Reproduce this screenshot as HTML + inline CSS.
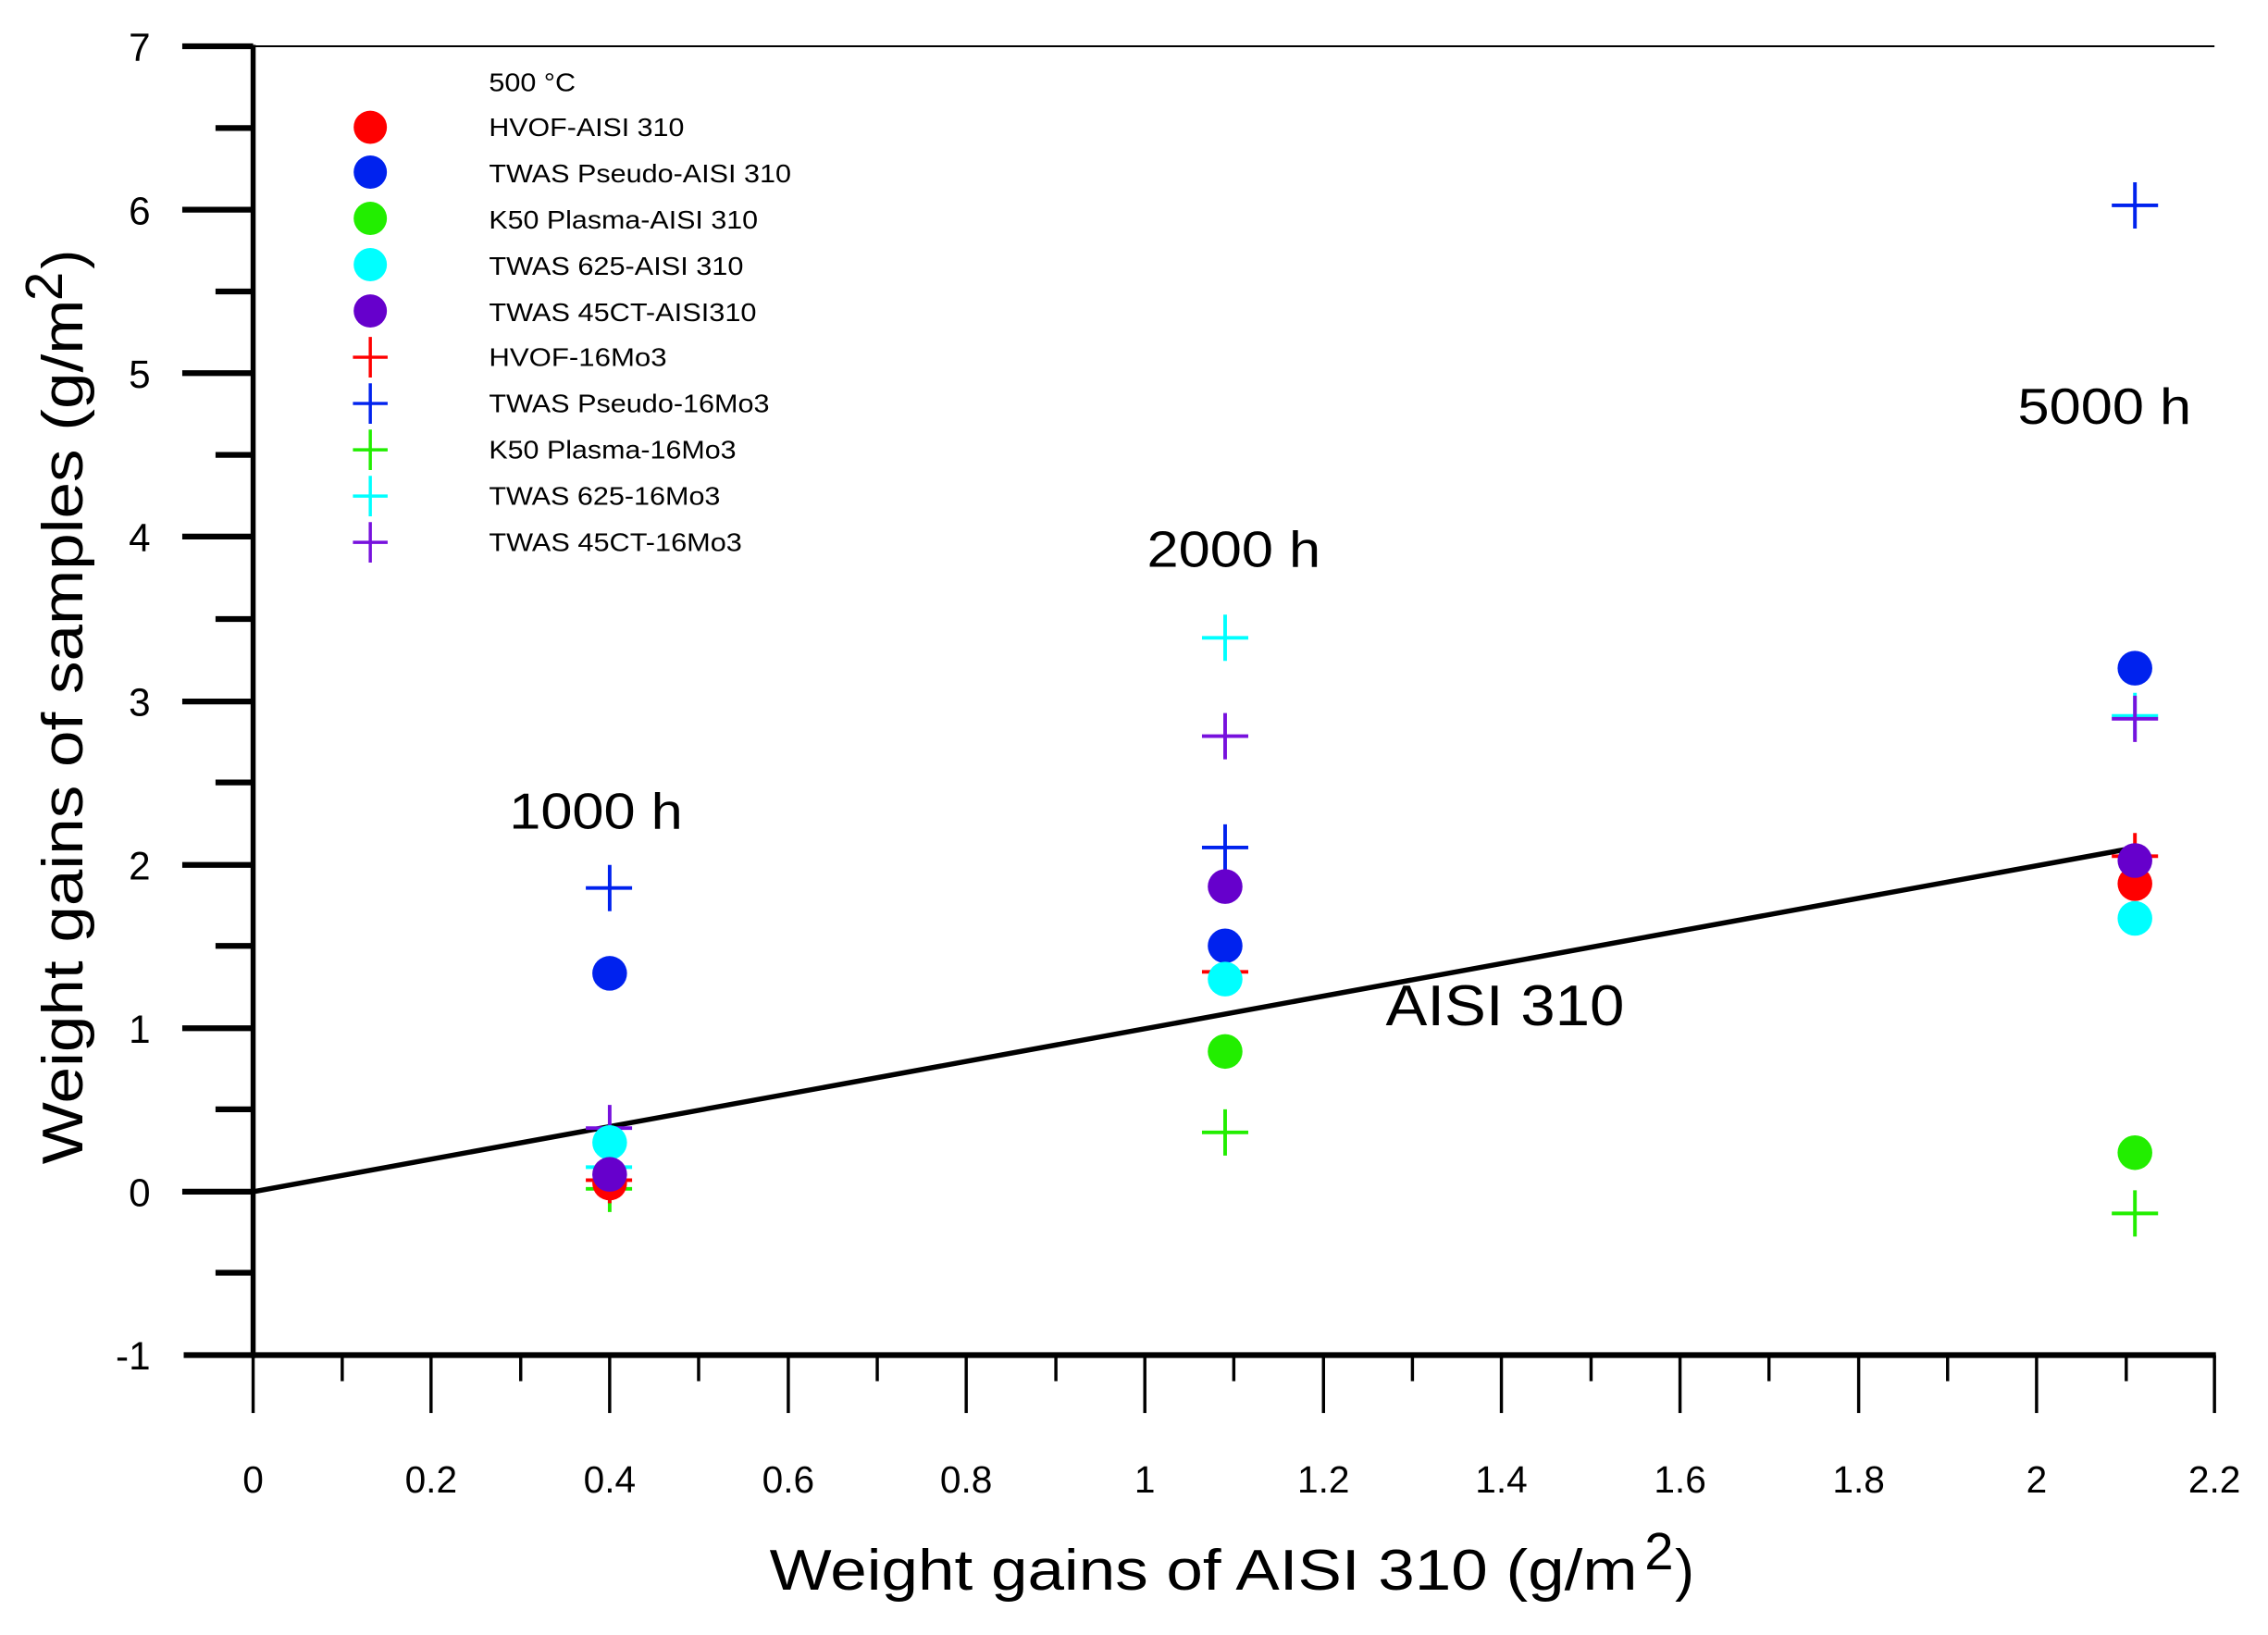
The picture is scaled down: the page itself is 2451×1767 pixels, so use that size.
<!DOCTYPE html>
<html><head><meta charset="utf-8"><style>
html,body{margin:0;padding:0;background:#fff;}
svg{display:block;}
text{font-family:"Liberation Sans",Arial,sans-serif;}
</style></head><body>
<svg width="2451" height="1767" viewBox="0 0 1568 1130.5" preserveAspectRatio="none" xmlns="http://www.w3.org/2000/svg">
<rect width="1568" height="1131" fill="#fff"/>
<!-- frame -->
<line x1="175" y1="32" x2="1531" y2="32" stroke="#000" stroke-width="1.3"/>
<line x1="175" y1="31" x2="175" y2="939" stroke="#000" stroke-width="3.5"/>
<line x1="127" y1="937" x2="1532" y2="937" stroke="#000" stroke-width="4"/>
<!-- y ticks -->
<g stroke="#000" stroke-width="4">
<line x1="126" y1="32" x2="175" y2="32"/><line x1="149" y1="88.5" x2="175" y2="88.5"/>
<line x1="126" y1="145" x2="175" y2="145"/><line x1="149" y1="201.5" x2="175" y2="201.5"/>
<line x1="126" y1="258" x2="175" y2="258"/><line x1="149" y1="314.5" x2="175" y2="314.5"/>
<line x1="126" y1="371" x2="175" y2="371"/><line x1="149" y1="428" x2="175" y2="428"/>
<line x1="126" y1="485" x2="175" y2="485"/><line x1="149" y1="541" x2="175" y2="541"/>
<line x1="126" y1="598" x2="175" y2="598"/><line x1="149" y1="654" x2="175" y2="654"/>
<line x1="126" y1="711" x2="175" y2="711"/><line x1="149" y1="767" x2="175" y2="767"/>
<line x1="126" y1="824" x2="175" y2="824"/><line x1="149" y1="880" x2="175" y2="880"/>
</g>
<g font-size="27" text-anchor="end" fill="#000">
<text x="104" y="42">7</text><text x="104" y="155">6</text><text x="104" y="268">5</text>
<text x="104" y="381">4</text><text x="104" y="495">3</text><text x="104" y="608">2</text>
<text x="104" y="721">1</text><text x="104" y="834">0</text><text x="104" y="947">-1</text>
</g>
<!-- x ticks -->
<g stroke="#000" stroke-width="2.2">
<line x1="175" y1="937" x2="175" y2="977"/><line x1="236.6" y1="937" x2="236.6" y2="955"/>
<line x1="298" y1="937" x2="298" y2="977"/><line x1="360" y1="937" x2="360" y2="955"/>
<line x1="421.5" y1="937" x2="421.5" y2="977"/><line x1="483" y1="937" x2="483" y2="955"/>
<line x1="545" y1="937" x2="545" y2="977"/><line x1="606.5" y1="937" x2="606.5" y2="955"/>
<line x1="668" y1="937" x2="668" y2="977"/><line x1="730" y1="937" x2="730" y2="955"/>
<line x1="791.5" y1="937" x2="791.5" y2="977"/><line x1="853" y1="937" x2="853" y2="955"/>
<line x1="915" y1="937" x2="915" y2="977"/><line x1="976.5" y1="937" x2="976.5" y2="955"/>
<line x1="1038" y1="937" x2="1038" y2="977"/><line x1="1100" y1="937" x2="1100" y2="955"/>
<line x1="1161.5" y1="937" x2="1161.5" y2="977"/><line x1="1223" y1="937" x2="1223" y2="955"/>
<line x1="1285" y1="937" x2="1285" y2="977"/><line x1="1346.5" y1="937" x2="1346.5" y2="955"/>
<line x1="1408" y1="937" x2="1408" y2="977"/><line x1="1470" y1="937" x2="1470" y2="955"/>
<line x1="1531" y1="937" x2="1531" y2="977"/>
</g>
<g font-size="26" text-anchor="middle" fill="#000">
<text x="175" y="1032">0</text><text x="298" y="1032">0.2</text><text x="421.5" y="1032">0.4</text>
<text x="545" y="1032">0.6</text><text x="668" y="1032">0.8</text><text x="791.5" y="1032">1</text>
<text x="915" y="1032">1.2</text><text x="1038" y="1032">1.4</text><text x="1161.5" y="1032">1.6</text>
<text x="1285" y="1032">1.8</text><text x="1408" y="1032">2</text><text x="1531" y="1032">2.2</text>
</g>
<text x="532" y="1099" font-size="40" textLength="600" lengthAdjust="spacingAndGlyphs">Weight gains of AISI 310 (g/m</text>
<text x="1137" y="1085" font-size="36">2</text>
<text x="1158" y="1099" font-size="40">)</text>
<text transform="translate(57,805) rotate(-90)" font-size="40" textLength="598" lengthAdjust="spacingAndGlyphs">Weight gains of samples (g/m</text>
<text transform="translate(43,208) rotate(-90)" font-size="36">2</text>
<text transform="translate(57,186) rotate(-90)" font-size="40">)</text>
<!-- fit line -->
<line x1="175" y1="824" x2="1477" y2="586" stroke="#000" stroke-width="3.5"/>
<!-- labels -->
<g font-size="35" fill="#000">
<text x="352" y="573" textLength="120" lengthAdjust="spacingAndGlyphs">1000 h</text>
<text x="793" y="392" textLength="120" lengthAdjust="spacingAndGlyphs">2000 h</text>
<text x="1395" y="293" textLength="120" lengthAdjust="spacingAndGlyphs">5000 h</text>
<text x="958" y="709" font-size="40" textLength="165" lengthAdjust="spacingAndGlyphs">AISI 310</text>
</g>
<!-- legend -->
<g font-size="18" fill="#000">
<text x="338" y="63" textLength="60" lengthAdjust="spacingAndGlyphs">500 °C</text>
<text x="338" y="94" textLength="135" lengthAdjust="spacingAndGlyphs">HVOF-AISI 310</text>
<text x="338" y="126" textLength="209" lengthAdjust="spacingAndGlyphs">TWAS Pseudo-AISI 310</text>
<text x="338" y="158" textLength="186" lengthAdjust="spacingAndGlyphs">K50 Plasma-AISI 310</text>
<text x="338" y="190" textLength="176" lengthAdjust="spacingAndGlyphs">TWAS 625-AISI 310</text>
<text x="338" y="222" textLength="185" lengthAdjust="spacingAndGlyphs">TWAS 45CT-AISI310</text>
<text x="338" y="253" textLength="123" lengthAdjust="spacingAndGlyphs">HVOF-16Mo3</text>
<text x="338" y="285" textLength="194" lengthAdjust="spacingAndGlyphs">TWAS Pseudo-16Mo3</text>
<text x="338" y="317" textLength="171" lengthAdjust="spacingAndGlyphs">K50 Plasma-16Mo3</text>
<text x="338" y="349" textLength="160" lengthAdjust="spacingAndGlyphs">TWAS 625-16Mo3</text>
<text x="338" y="381" textLength="175" lengthAdjust="spacingAndGlyphs">TWAS 45CT-16Mo3</text>
</g>
<circle cx="256" cy="88" r="11.5" fill="#ff0000"/>
<circle cx="256" cy="119" r="11.5" fill="#0022ee"/>
<circle cx="256" cy="151" r="11.5" fill="#22ee00"/>
<circle cx="256" cy="183" r="11.5" fill="#00ffff"/>
<circle cx="256" cy="215" r="11.5" fill="#6600cc"/>
<g stroke-width="2.2" fill="none">
<path d="M244 247h24M256 233v28" stroke="#ff0000"/>
<path d="M244 279h24M256 265v28" stroke="#0022ee"/>
<path d="M244 311h24M256 297v28" stroke="#22ee00"/>
<path d="M244 343h24M256 329v28" stroke="#00ffff"/>
<path d="M244 375h24M256 361v28" stroke="#7711dd"/>
</g>
<!-- plus markers (data) -->
<g stroke-width="2.5" fill="none">
<path d="M405 614h32M421.5 598v32" stroke="#0022ee"/>
<path d="M405 822h32M421.5 806v32" stroke="#22ee00"/>
<path d="M405 816h32M421.5 800v32" stroke="#ff0000"/>
<path d="M405 807h32M421.5 791v32" stroke="#00ffff"/>
<path d="M405 780h32M421.5 764v32" stroke="#7711dd"/>
<path d="M831 441h32M847 425v32" stroke="#00ffff"/>
<path d="M831 509h32M847 493v32" stroke="#7711dd"/>
<path d="M831 586h32M847 570v32" stroke="#0022ee"/>
<path d="M831 672h32M847 656v32" stroke="#ff0000"/>
<path d="M831 783h32M847 767v32" stroke="#22ee00"/>
<path d="M1460 142h32M1476 126v32" stroke="#0022ee"/>
<path d="M1460 495h32M1476 479v32" stroke="#00ffff"/>
<path d="M1460 497h32M1476 481v32" stroke="#7711dd"/>
<path d="M1460 592h32M1476 576v32" stroke="#ff0000"/>
<path d="M1460 839h32M1476 823v32" stroke="#22ee00"/>
</g>
<!-- circle markers -->
<circle cx="421.5" cy="673" r="12" fill="#0022ee"/>
<circle cx="421.5" cy="818" r="12" fill="#ff0000"/>
<circle cx="421.5" cy="790" r="12" fill="#00ffff"/>
<circle cx="421.5" cy="812" r="12" fill="#6600cc"/>
<circle cx="847" cy="613" r="12" fill="#6600cc"/>
<circle cx="847" cy="654" r="12" fill="#0022ee"/>
<circle cx="847" cy="677" r="12" fill="#00ffff"/>
<circle cx="847" cy="727" r="12" fill="#22ee00"/>
<circle cx="1476" cy="462" r="12" fill="#0022ee"/>
<circle cx="1476" cy="611" r="12" fill="#ff0000"/>
<circle cx="1476" cy="595" r="12" fill="#6600cc"/>
<circle cx="1476" cy="635" r="12" fill="#00ffff"/>
<circle cx="1476" cy="797" r="12" fill="#22ee00"/>
</svg>
</body></html>
